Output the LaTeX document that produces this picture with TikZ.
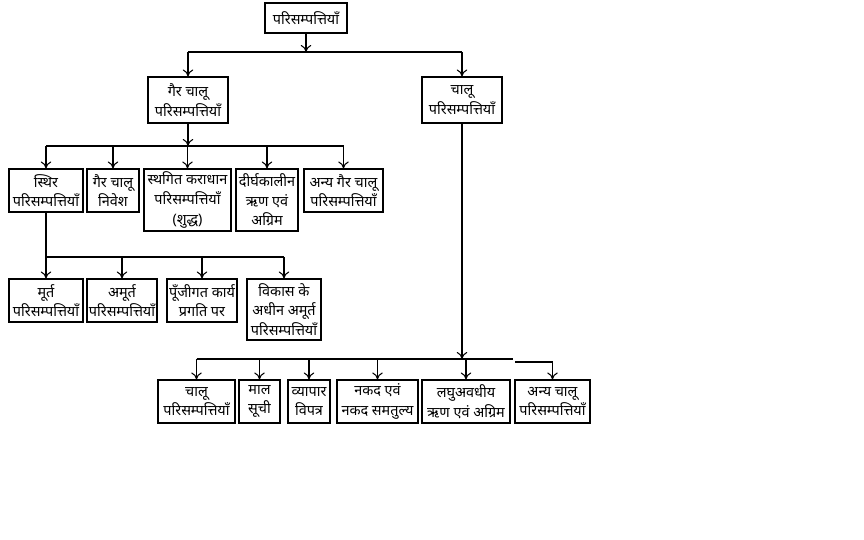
\documentclass[tikz,border=0pt]{standalone}
\usepackage{fontspec}
\newfontfamily\hindi[Script=Devanagari]{Noto Sans}
\usepackage{tikz}
\usetikzlibrary{arrows.meta}

\tikzset{
  box/.style={draw, line width=0.6pt, align=center, inner sep=1pt,
    font=\hindi\fontsize{8.2}{11.2}\selectfont},
  conn/.style={line width=0.6pt},
  arr/.style={conn, -{To[length=4pt,width=6pt]}}
}

\begin{document}
\begin{tikzpicture}
    \useasboundingbox (0,0) rectangle (17.28,-10.8);

        % top levels
        \node [box, minimum width=1.64cm, minimum height=0.60cm] (root) at (6.12,-0.36) {परिसम्पत्तियाँ};
        \node [box, minimum width=1.60cm, minimum height=0.92cm] (gc) at (3.76,-2.0) {गैर चालू\\परिसम्पत्तियाँ};
        \node [box, minimum width=1.60cm, minimum height=0.92cm] (ch) at (9.24,-2.0) {चालू\\परिसम्पत्तियाँ};

        % non current
        \node [box, minimum width=1.48cm, minimum height=0.86cm] (sthir) at (0.92,-3.81) {स्थिर\\परिसम्पत्तियाँ};
        \node [box, minimum width=1.04cm, minimum height=0.86cm] (nivesh) at (2.26,-3.81) {गैर चालू\\निवेश};
        \node [box, minimum width=1.74cm, minimum height=1.24cm] (sthagit) at (3.75,-4.0) {स्थगित कराधान\\परिसम्पत्तियाँ\\(शुद्ध)};
        \node [box, minimum width=1.24cm, minimum height=1.24cm] (dirgh) at (5.34,-4.0) {दीर्घकालीन\\ऋण एवं\\अग्रिम};
        \node [box, minimum width=1.58cm, minimum height=0.86cm] (anyagc) at (6.87,-3.81) {अन्य गैर चालू\\परिसम्पत्तियाँ};

        % fixed
        \node [box, minimum width=1.48cm, minimum height=0.86cm] (murt) at (0.92,-6.01) {मूर्त\\परिसम्पत्तियाँ};
        \node [box, minimum width=1.40cm, minimum height=0.86cm] (amurt) at (2.44,-6.01) {अमूर्त\\परिसम्पत्तियाँ};
        \node [box, minimum width=1.40cm, minimum height=0.86cm] (punji) at (4.04,-6.01) {पूँजीगत कार्य\\प्रगति पर};
        \node [box, minimum width=1.48cm, minimum height=1.22cm] (vikas) at (5.68,-6.19) {विकास के\\अधीन अमूर्त\\परिसम्पत्तियाँ};

        % current
        \node [box, minimum width=1.54cm, minimum height=0.86cm] (cc) at (3.93,-8.03) {चालू\\परिसम्पत्तियाँ};
        \node [box, minimum width=0.82cm, minimum height=0.86cm] (maal) at (5.19,-8.03) {माल\\सूची};
        \node [box, minimum width=0.84cm, minimum height=0.86cm] (vyapar) at (6.18,-8.03) {व्यापार\\विपत्र};
        \node [box, minimum width=1.62cm, minimum height=0.86cm] (nakad) at (7.55,-8.03) {नकद एवं\\नकद समतुल्य};
        \node [box, minimum width=1.76cm, minimum height=0.86cm] (laghu) at (9.32,-8.03) {लघुअवधीय\\ऋण एवं अग्रिम};
        \node [box, minimum width=1.50cm, minimum height=0.86cm] (anyac) at (11.05,-8.03) {अन्य चालू\\परिसम्पत्तियाँ};

        \coordinate (b0) at (0,-1.04);
        \coordinate (b1) at (0,-2.92);
        \coordinate (b2) at (0,-5.14);
        \coordinate (b3) at (0,-7.18);
        \coordinate (b3end) at (10.26,-7.18);
        \coordinate (b3b) at (10.30,-7.24);

    \draw[arr] (root) -- (root.south |- b0);
    \draw[conn] (gc.north |- b0) -- (ch.north |- b0);
    \draw[arr] (gc.north |- b0) -- (gc.north);
    \draw[arr] (ch.north |- b0) -- (ch.north);

    \draw[arr] (gc) -- (gc.south |- b1);
    \draw[conn] (sthir.north |- b1) -- (anyagc.north |- b1);
    \foreach \n in {sthir,nivesh,sthagit,dirgh,anyagc}
        \draw[arr] (\n.north |- b1) -- (\n.north);

    \draw[conn] (sthir.south) -- (sthir.south |- b2) -- (vikas.north |- b2);
    \foreach \n in {murt,amurt,punji,vikas}
        \draw[arr] (\n.north |- b2) -- (\n.north);

    \draw[arr] (ch) -- (ch.south |- b3);
    \draw[conn] (cc.north |- b3) -- (b3end);
    \foreach \n in {cc,maal,vyapar,nakad,laghu}
        \draw[arr] (\n.north |- b3) -- (\n.north);
    \draw[conn] (b3b) -- (anyac.north |- b3b);
    \draw[arr] (anyac.north |- b3b) -- (anyac.north);
\end{tikzpicture}
\end{document}
